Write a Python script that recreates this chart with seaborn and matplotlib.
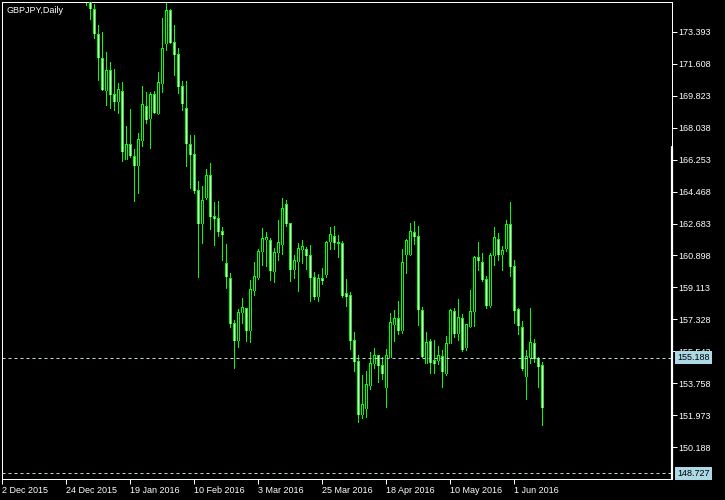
import numpy as np
import pandas as pd
import matplotlib
matplotlib.use("Agg")
import matplotlib.pyplot as plt
import matplotlib.transforms as mtransforms
import seaborn as sns

# trading days on the chart (no bars for Christmas and New Year)
days = pd.bdate_range("2015-12-02", "2016-06-10")
days = days[~days.isin(pd.to_datetime(["2015-12-25", "2016-01-01"]))]

# daily candles from 4 Jan 2016, earlier bars are above the visible range
first_day = "2016-01-04"
opens = [176.20, 175.35, 174.64, 173.26, 171.91, 170.10, 171.20, 169.86, 169.48, 170.08,
         166.27, 167.07, 166.45, 165.91, 167.31, 169.24, 168.56, 169.90, 168.84, 170.51,
         172.75, 174.60, 172.80, 172.13, 170.32, 169.12, 167.12, 166.51, 164.55, 162.69,
         164.16, 165.34, 163.06, 162.97, 162.26, 160.46, 159.62, 157.11, 156.14, 157.70,
         157.91, 156.70, 158.93, 159.66, 161.11, 161.80, 161.76, 159.99, 161.05, 161.52,
         163.72, 162.69, 160.13, 160.55, 161.24, 161.24, 160.87, 159.68, 158.60, 159.62,
         159.85, 161.67, 161.95, 161.63, 161.58, 158.75, 158.65, 156.14, 154.97, 152.03,
         152.36, 153.63, 154.84, 155.30, 154.78, 153.53, 155.21, 157.05, 157.39, 156.70,
         160.96, 160.96, 162.19, 161.95, 157.81, 154.88, 156.12, 155.06, 155.02, 155.25,
         154.32, 155.99, 157.77, 156.55, 157.39, 155.77, 156.92, 157.76, 160.80, 160.52,
         159.58, 158.09, 160.89, 161.80, 160.96, 161.30, 162.64, 160.27, 157.89, 156.89,
         154.13, 155.21, 155.99, 155.12, 154.74]
highs = [176.50, 175.50, 174.94, 173.77, 173.36, 172.28, 171.70, 171.31, 170.51, 170.60,
         168.13, 169.08, 166.84, 167.74, 170.36, 170.03, 170.03, 170.10, 171.16, 174.18,
         175.05, 174.66, 173.77, 172.47, 170.64, 170.64, 167.63, 167.63, 165.06, 164.78,
         165.73, 166.08, 163.88, 163.94, 162.50, 161.54, 159.94, 157.29, 157.91, 158.51,
         157.95, 159.53, 160.55, 161.26, 162.43, 162.23, 161.86, 161.30, 162.88, 164.09,
         163.99, 162.73, 160.92, 161.61, 161.76, 161.39, 161.48, 159.99, 159.86, 160.18,
         161.72, 162.47, 162.54, 162.04, 161.71, 159.57, 158.84, 156.64, 155.34, 154.22,
         154.45, 155.52, 155.71, 155.34, 155.21, 155.68, 157.67, 157.85, 158.36, 161.26,
         161.80, 162.73, 162.82, 162.54, 158.00, 156.64, 156.22, 156.18, 155.84, 155.62,
         156.40, 157.91, 157.95, 158.47, 157.63, 157.07, 158.97, 160.87, 161.63, 161.02,
         159.77, 161.02, 162.47, 162.14, 161.44, 162.88, 163.87, 160.64, 157.95, 157.24,
         155.62, 157.95, 156.22, 155.25, 154.97]
lows = [174.90, 174.09, 173.06, 170.70, 170.14, 169.30, 169.15, 169.02, 168.84, 166.17,
        166.27, 166.41, 163.96, 164.40, 167.03, 168.28, 166.92, 168.84, 168.80, 170.04,
        172.37, 172.75, 170.98, 169.99, 169.02, 165.91, 164.67, 164.39, 159.71, 161.61,
        164.07, 162.39, 161.48, 161.99, 160.64, 159.10, 156.92, 154.60, 155.77, 157.14,
        156.14, 156.08, 158.71, 159.58, 160.38, 160.31, 159.53, 159.43, 160.64, 160.98,
        162.54, 159.49, 159.62, 158.93, 160.46, 160.13, 158.37, 158.45, 158.37, 159.29,
        159.71, 161.26, 161.26, 160.83, 158.60, 158.09, 155.68, 154.46, 151.62, 151.84,
        151.89, 153.44, 154.60, 153.85, 154.00, 152.45, 155.21, 156.14, 156.51, 156.57,
        159.94, 160.92, 161.54, 157.02, 155.21, 154.88, 154.35, 154.35, 154.81, 153.57,
        154.22, 155.99, 156.36, 156.18, 155.58, 155.62, 156.89, 156.98, 160.09, 159.49,
        157.98, 158.04, 160.37, 160.64, 160.09, 161.16, 159.77, 157.14, 156.51, 154.50,
        152.88, 154.88, 154.97, 153.57, 151.43]
closes = [175.40, 174.70, 173.30, 171.96, 170.18, 171.25, 169.91, 169.48, 170.14, 166.69,
          167.07, 166.47, 165.91, 167.35, 169.34, 168.50, 169.90, 168.87, 170.57, 172.47,
          174.60, 172.78, 172.13, 170.32, 169.36, 167.16, 166.55, 164.51, 162.67, 163.99,
          165.34, 163.06, 162.95, 162.23, 162.08, 159.71, 157.11, 156.14, 157.72, 158.00,
          156.70, 159.01, 159.75, 161.11, 161.86, 161.91, 160.05, 161.05, 161.63, 163.53,
          162.67, 160.13, 160.59, 161.26, 161.39, 160.87, 159.68, 158.60, 159.62, 159.49,
          161.63, 162.08, 161.61, 161.56, 158.65, 158.60, 156.14, 154.97, 152.03, 152.55,
          153.67, 154.88, 155.30, 154.74, 154.32, 155.30, 157.17, 157.39, 156.70, 160.51,
          161.71, 162.26, 161.95, 157.89, 155.25, 156.05, 154.93, 154.88, 155.30, 154.41,
          155.99, 157.80, 156.55, 157.45, 155.62, 157.02, 157.76, 160.80, 160.61, 159.53,
          158.13, 160.91, 161.91, 160.96, 161.15, 162.64, 160.27, 157.81, 156.98, 154.56,
          155.25, 156.05, 155.12, 154.69, 152.40]

price_ticks = [173.393, 171.608, 169.823, 168.038, 166.253, 164.468, 162.683,
               160.898, 159.113, 157.328, 155.543, 153.758, 151.973, 150.188]
date_ticks = ["2015-12-02", "2015-12-24", "2016-01-19", "2016-02-10", "2016-03-03",
              "2016-03-25", "2016-04-18", "2016-05-10", "2016-06-01"]
bid_price = 155.188
low_price = 148.727

lime = "#00ff00"
sns.set_style("ticks", {"axes.facecolor": "black", "figure.facecolor": "black",
                        "axes.edgecolor": "white", "xtick.color": "white",
                        "ytick.color": "white", "text.color": "white"})
plt.rcParams["font.family"] = ["Liberation Sans", "DejaVu Sans"]

fig = plt.figure(figsize=(7.25, 5), dpi=100)
ax = fig.add_axes([2.3 / 725, 21 / 500, 670 / 725, 476.7 / 500])
ax.set_xlim(0, 167.5)
ax.set_ylim(148.416, 175.035)

df = pd.DataFrame({"open": opens, "high": highs, "low": lows, "close": closes},
                  index=days[days >= first_day])
pos = days.get_indexer(df.index)
bull = df["close"] > df["open"]
top = np.maximum(df["open"], df["close"])
bot = np.minimum(df["open"], df["close"])

# one pixel in price units, for the body outline
px = (175.035 - 148.416) / 476.7

# wicks, green body, then the white (bear) or black (bull) core
ax.vlines(pos, df["low"], df["high"], color=lime, lw=0.72, zorder=2, antialiased=False)
ax.bar(pos, top - bot + px, bottom=bot - px / 2, width=0.75, color=lime,
       linewidth=0, zorder=3, antialiased=False)
inner = (top - bot) > 1.5 * px
ax.vlines(pos[inner], (bot + px / 2)[inner], (top - px / 2)[inner],
          color=np.where(bull, "black", "white")[inner], lw=0.72, zorder=4,
          antialiased=False)

# price lines with their labels
trans = mtransforms.blended_transform_factory(ax.transAxes, ax.transData)
for p in [bid_price, low_price]:
    ax.axhline(p, color="#c0d8e4", lw=0.72, ls=(0, (3, 3)), zorder=5)
    ax.text(1 + 5 / 670, p, f"{p:.3f}", transform=trans, va="center", ha="left",
            fontsize=6.5, color="black", zorder=10, clip_on=False,
            bbox=dict(boxstyle="square,pad=0.22", fc="lightblue", ec="none"))

ax.yaxis.tick_right()
ax.set_yticks(price_ticks, [f"{t:.3f}" for t in price_ticks])
xt = days.get_indexer(pd.to_datetime(date_ticks))
ax.set_xticks(xt, [f"{d.day} {d:%b %Y}" for d in pd.to_datetime(date_ticks)])
for lbl in ax.get_xticklabels():
    lbl.set_ha("left")
ax.tick_params(axis="both", length=3.6, width=0.72, labelsize=6.5, colors="white")
ax.tick_params(axis="y", pad=1)
ax.tick_params(axis="x", pad=1.5)
for s in ax.spines.values():
    s.set_visible(True)
    s.set_color("white")
    s.set_linewidth(0.72)
ax.plot([1, 1], [0, 0.696], transform=ax.transAxes, color="white", lw=1.6,
        clip_on=False, zorder=6)

ax.text((6.7 - 2.3) / 670, 0.993, "GBPJPY,Daily", transform=ax.transAxes,
        ha="left", va="top", fontsize=6.5, color="white")

fig.savefig("out.png", dpi=100, facecolor="black")
